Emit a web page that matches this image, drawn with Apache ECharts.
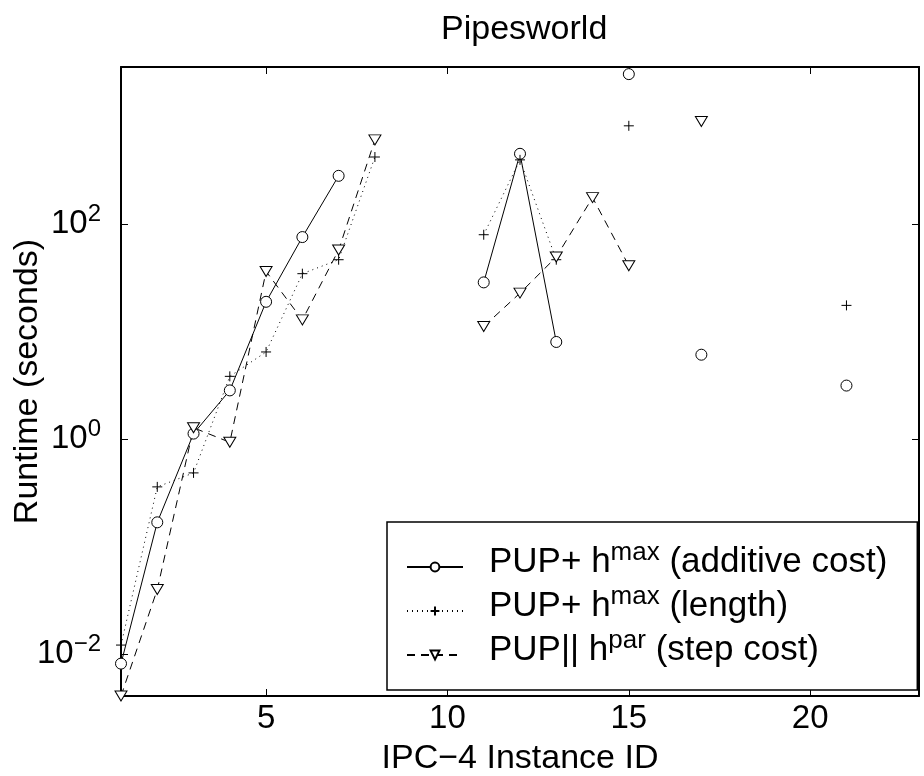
<!DOCTYPE html>
<html><head><meta charset="utf-8">
<script src="https://cdn.jsdelivr.net/npm/echarts@6/dist/echarts.min.js"></script>
<style>html,body{margin:0;padding:0;background:#fff}#c{width:924px;height:776px}</style>
</head><body><div id="c"></div>
<script>
// IPC-4 instance ids
const ids = [1,2,3,4,5,6,7,8,9,10,11,12,13,14,15,16,17,18,19,20,21];
// Runtime (seconds), null = not solved
const additiveCost = [0.0082,0.169,1.13,2.85,19.0,76,282,null,null,null,28.8,452,8.04,null,2490,null,6.12,null,null,null,3.16];
const lengthCost   = [0.0122,0.361,0.487,3.85,6.49,34.7,46.8,422,null,null,79.9,397,46.8,null,823,null,null,null,null,null,17.6];
const stepCost     = [0.0041,0.0401,1.28,0.938,36.4,12.9,57.7,609,null,null,11.2,22.9,49.6,177,41.1,null,902,null,null,null,null];
const seriesNames = ['PUP+ hmax (additive cost)','PUP+ hmax (length)','PUP|| hpar (step cost)'];
const legendRich = {
  'PUP+ hmax (additive cost)': '{n|PUP+ h}{s|max}{n| (additive cost)}',
  'PUP+ hmax (length)': '{n|PUP+ h}{s|max}{n| (length)}',
  'PUP|| hpar (step cost)': '{n|PUP|| h}{s|par}{n| (step cost)}'
};
const xTicks = [5,10,15,20];
const yTicks = [0.01,1,100];
const xRange = [1,23];
const yRange = [0.0041,2900];

const FONT = 'Liberation Sans, Arial, Helvetica, sans-serif';
const chart = echarts.init(document.getElementById('c'), null, {renderer:'canvas'});
const pairs = arr => ids.map((x,i)=>[x, arr[i]]);
const supLabel = v => {
  const e = Math.round(Math.log10(v));
  return '{b|10}{s|' + String(e).replace('-', '\u2212') + '}';
};
const axisLineStyle = {color:'#000', width:2};
const tickStyle = {color:'#000', width:1};
const baseSeries = {
  type:'line', xAxisIndex:0, yAxisIndex:0, connectNulls:false, clip:false, z:3
};
chart.setOption({
  animation:false,
  backgroundColor:'#fff',
  textStyle:{fontFamily:FONT},
  title:{text:'Pipesworld', left:436, top:8,
    textStyle:{fontFamily:FONT, fontSize:34, fontWeight:'normal', color:'#000'}},
  grid:{left:121, right:5, top:67, bottom:80, containLabel:false, outerBoundsMode:'none'},
  legend:{
    orient:'vertical', left:387, top:522,
    backgroundColor:'#fff', borderColor:'#000', borderWidth:1.5,
    padding:[18,30,22,19], itemWidth:56, itemHeight:11, itemGap:4,
    data:seriesNames,
    formatter: name => legendRich[name],
    textStyle:{fontFamily:FONT, color:'#000', fontSize:35, padding:[0,0,14,21],
      rich:{
        n:{fontFamily:FONT, fontSize:35, lineHeight:35, verticalAlign:'bottom', color:'#000'},
        s:{fontFamily:FONT, fontSize:26, verticalAlign:'top', padding:[0,0,14,0], color:'#000'}
      }}
  },
  xAxis:[{
    type:'value', min:xRange[0], max:xRange[1], position:'bottom',
    name:'IPC\u22124 Instance ID', nameLocation:'middle', nameGap:46, nameMoveOverlap:false,
    nameTextStyle:{fontFamily:FONT, fontSize:34, color:'#000'},
    axisLine:{show:true, lineStyle:axisLineStyle},
    axisTick:{show:true, inside:true, length:7, customValues:xTicks, lineStyle:tickStyle},
    axisLabel:{customValues:xTicks, fontFamily:FONT, fontSize:33, color:'#000', margin:6},
    splitLine:{show:false}
  },{
    type:'value', min:xRange[0], max:xRange[1], position:'top',
    axisLine:{show:true, lineStyle:axisLineStyle},
    axisTick:{show:true, inside:true, length:7, customValues:xTicks, lineStyle:tickStyle},
    axisLabel:{show:false}, splitLine:{show:false}
  }],
  yAxis:[{
    type:'log', logBase:10, min:yRange[0], max:yRange[1], position:'left',
    name:'Runtime (seconds)', nameLocation:'middle', nameGap:76, nameRotate:90, nameMoveOverlap:false,
    nameTextStyle:{fontFamily:FONT, fontSize:34, color:'#000'},
    axisLine:{show:true, lineStyle:axisLineStyle},
    axisTick:{show:true, inside:true, length:7, customValues:yTicks, lineStyle:tickStyle},
    axisLabel:{customValues:yTicks, margin:20, formatter:supLabel, color:'#000', padding:[0,0,5,0],
      rich:{
        b:{fontFamily:FONT, fontSize:33, lineHeight:33, verticalAlign:'bottom', color:'#000'},
        s:{fontFamily:FONT, fontSize:24, verticalAlign:'top', padding:[0,0,14,0], color:'#000'}
      }},
    splitLine:{show:false}
  },{
    type:'log', logBase:10, min:yRange[0], max:yRange[1], position:'right',
    axisLine:{show:true, lineStyle:axisLineStyle},
    axisTick:{show:true, inside:true, length:7, customValues:yTicks, lineStyle:tickStyle},
    axisLabel:{show:false}, splitLine:{show:false}
  }],
  series:[
    Object.assign({}, baseSeries, {
      name:seriesNames[0], data:pairs(additiveCost),
      symbol:'circle', symbolSize:11,
      itemStyle:{color:'#fff', borderColor:'#000', borderWidth:1},
      lineStyle:{color:'#000', width:1, type:'solid'}
    }),
    Object.assign({}, baseSeries, {
      name:seriesNames[1], data:pairs(lengthCost),
      symbol:'path://M0,-1L0,1M-1,0L1,0', symbolSize:10,
      itemStyle:{color:'#000', borderColor:'#000', borderWidth:1},
      lineStyle:{color:'#000', width:1, type:[1,4]}
    }),
    Object.assign({}, baseSeries, {
      name:seriesNames[2], data:pairs(stepCost),
      symbol:'triangle', symbolRotate:180, symbolSize:[12,10],
      itemStyle:{color:'#fff', borderColor:'#000', borderWidth:1},
      lineStyle:{color:'#000', width:1, type:[8,6]}
    })
  ]
});
</script></body></html>
